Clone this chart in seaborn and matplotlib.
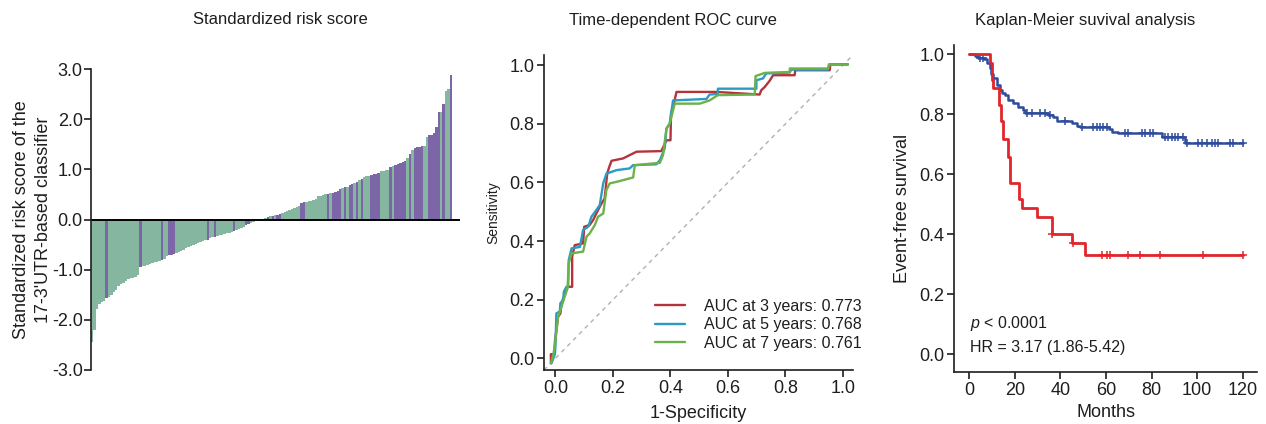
import numpy as np
import pandas as pd
import matplotlib
matplotlib.use("Agg")
import matplotlib.pyplot as plt
import seaborn as sns

# --- panel 1: waterfall of standardized risk scores (sorted patients)
risk_scores = [
    -2.45, -2.20, -1.78, -1.68, -1.65, -1.62, -1.57, -1.55, -1.50, -1.45,
    -1.40, -1.32, -1.28, -1.26, -1.22, -1.18, -1.17, -1.16, -1.15, -1.10,
    -0.94, -0.93, -0.92, -0.90, -0.89, -0.87, -0.85, -0.84, -0.82, -0.81,
    -0.78, -0.73, -0.71, -0.70, -0.69, -0.66, -0.64, -0.62, -0.60, -0.57,
    -0.55, -0.53, -0.51, -0.49, -0.47, -0.45, -0.43, -0.41, -0.40, -0.37,
    -0.35, -0.34, -0.32, -0.31, -0.30, -0.29, -0.27, -0.26, -0.24, -0.23,
    -0.20, -0.18, -0.16, -0.14, -0.10, -0.08, -0.06, -0.04, -0.03, -0.02,
    -0.01, 0.01, 0.02, 0.04, 0.06, 0.07, 0.08, 0.09, 0.10, 0.12,
    0.15, 0.17, 0.19, 0.21, 0.23, 0.25, 0.26, 0.33, 0.34, 0.35,
    0.36, 0.37, 0.38, 0.40, 0.46, 0.47, 0.48, 0.50, 0.51, 0.52,
    0.52, 0.54, 0.57, 0.60, 0.62, 0.64, 0.65, 0.68, 0.71, 0.73,
    0.75, 0.78, 0.80, 0.84, 0.86, 0.87, 0.88, 0.90, 0.91, 0.93,
    0.96, 0.97, 0.98, 0.99, 1.05, 1.07, 1.08, 1.10, 1.12, 1.15,
    1.17, 1.22, 1.30, 1.38, 1.42, 1.44, 1.45, 1.46, 1.47, 1.64,
    1.68, 1.69, 1.72, 1.85, 2.14, 2.15, 2.30, 2.56, 2.60, 2.88,
]
# 1 = event, 0 = no event
event_status = [
    0, 0, 0, 0, 0, 0, 1, 0, 0, 0,
    0, 0, 0, 0, 0, 0, 0, 0, 0, 0,
    1, 0, 0, 0, 0, 0, 0, 0, 0, 1,
    0, 0, 1, 1, 1, 0, 0, 0, 0, 0,
    0, 0, 0, 0, 0, 0, 0, 0, 1, 0,
    0, 1, 0, 0, 0, 0, 0, 0, 0, 1,
    0, 0, 0, 0, 1, 1, 0, 0, 0, 0,
    0, 0, 0, 1, 0, 1, 0, 1, 1, 0,
    0, 0, 0, 0, 0, 0, 0, 1, 1, 0,
    0, 0, 0, 0, 0, 0, 0, 0, 1, 0,
    1, 1, 1, 1, 0, 1, 0, 1, 1, 0,
    1, 0, 1, 0, 0, 0, 1, 1, 1, 1,
    0, 0, 0, 0, 1, 0, 1, 1, 1, 1,
    1, 0, 1, 0, 1, 1, 1, 1, 0, 0,
    1, 1, 1, 1, 1, 0, 1, 0, 0, 1,
]
status_names = ["no event", "event"]

# --- panel 2: time-dependent ROC curves
roc3_fpr = [-0.016, -0.016, -0.004, -0.002, 0.009, 0.017, 0.021, 0.029, 0.035, 0.044,
            0.058, 0.058, 0.067, 0.096, 0.100, 0.119, 0.131, 0.145, 0.160, 0.171,
            0.180, 0.187, 0.195, 0.235, 0.282, 0.368, 0.386, 0.400, 0.402, 0.409,
            0.421, 0.560, 0.710, 0.716, 0.728, 0.745, 0.757, 0.832, 0.834, 0.954,
            0.956, 1.017]
roc3_tpr = [-0.017, 0.014, 0.014, 0.057, 0.142, 0.153, 0.188, 0.210, 0.233, 0.244,
            0.244, 0.347, 0.386, 0.392, 0.449, 0.455, 0.472, 0.500, 0.528, 0.545,
            0.631, 0.653, 0.674, 0.682, 0.705, 0.707, 0.744, 0.744, 0.835, 0.858,
            0.909, 0.909, 0.900, 0.915, 0.926, 0.947, 0.966, 0.966, 0.983, 0.983,
            1.003, 1.003]
roc5_fpr = [-0.014, -0.002, 0.000, 0.003, 0.015, 0.017, 0.027, 0.029, 0.038, 0.044,
            0.046, 0.056, 0.085, 0.096, 0.114, 0.125, 0.140, 0.154, 0.166, 0.177,
            0.212, 0.258, 0.270, 0.351, 0.363, 0.380, 0.386, 0.397, 0.409, 0.525,
            0.536, 0.565, 0.565, 0.699, 0.699, 0.722, 0.733, 0.815, 0.820, 0.948,
            0.954, 1.017]
roc5_tpr = [-0.017, 0.014, 0.045, 0.153, 0.160, 0.188, 0.199, 0.227, 0.244, 0.244,
            0.335, 0.375, 0.380, 0.438, 0.449, 0.483, 0.503, 0.523, 0.597, 0.630,
            0.642, 0.648, 0.659, 0.662, 0.676, 0.716, 0.784, 0.800, 0.880, 0.885,
            0.900, 0.902, 0.920, 0.920, 0.949, 0.955, 0.972, 0.975, 0.985, 0.985,
            1.003, 1.003]
roc7_fpr = [-0.016, -0.008, -0.002, 0.009, 0.021, 0.032, 0.042, 0.046, 0.056, 0.096,
            0.108, 0.119, 0.137, 0.148, 0.166, 0.177, 0.189, 0.212, 0.270, 0.276,
            0.363, 0.374, 0.386, 0.397, 0.415, 0.502, 0.536, 0.565, 0.693, 0.696,
            0.728, 0.815, 0.815, 0.948, 0.951, 1.017]
roc7_tpr = [-0.017, 0.011, 0.045, 0.142, 0.176, 0.210, 0.239, 0.324, 0.358, 0.364,
            0.415, 0.426, 0.455, 0.483, 0.494, 0.574, 0.597, 0.602, 0.617, 0.659,
            0.667, 0.693, 0.784, 0.800, 0.869, 0.869, 0.880, 0.898, 0.900, 0.963,
            0.974, 0.977, 0.989, 0.989, 1.003, 1.003]
roc_labels = ["AUC at 3 years: 0.773", "AUC at 5 years: 0.768", "AUC at 7 years: 0.761"]

# --- panel 3: Kaplan-Meier
high_times = [0, 9.1, 9.8, 10.5, 13.2, 13.8, 14.7, 17.1, 17.9, 22.0, 23.0, 29.6,
              36.1, 44.9, 50.8, 120.0]
high_surv = [1.0, 0.971, 0.914, 0.887, 0.831, 0.776, 0.718, 0.658, 0.572, 0.516,
             0.486, 0.458, 0.400, 0.372, 0.331, 0.331]
high_censor = [36.5, 45.5, 58.1, 60.6, 61.8, 69.8, 74.9, 83.7, 102.7, 120.0]

low_times = [0, 2.5, 4.0, 6.5, 8.0, 9.0, 9.5, 10.5, 12.0, 13.5,
             14.5, 15.7, 17.1, 19.3, 21.5, 23.4, 24.4, 34.7, 36.9, 38.3,
             44.9, 47.1, 48.6, 61.2, 62.5, 65.4, 84.5, 84.8, 94.7, 120.0]
low_surv = [1.0, 0.994, 0.988, 0.982, 0.970, 0.952, 0.935, 0.919, 0.897, 0.880,
            0.870, 0.863, 0.847, 0.836, 0.825, 0.814, 0.805, 0.797, 0.789, 0.778,
            0.769, 0.761, 0.756, 0.749, 0.741, 0.736, 0.728, 0.722, 0.705, 0.705]
low_censor = [4.7, 6.1, 25.2, 27.4, 31.0, 33.2, 35.4, 42.0, 49.3, 54.4, 55.9, 57.4,
              58.8, 60.3, 68.4, 69.8, 75.7, 77.1, 79.3, 80.8, 85.9, 87.4, 88.8, 90.3,
              91.7, 93.7, 95.7, 100.5, 102.0, 104.2, 106.4, 107.9, 109.3, 114.4,
              115.9, 120.0]

GREEN = "#84b6a0"
PURPLE = "#7d66a8"
ROC_COLORS = ["#b5333b", "#2b9bc3", "#6cb24a"]
KM_RED = "#e0262c"
KM_BLUE = "#2e4b9c"
INK = "#1e1e1e"

sns.set_style("ticks")
plt.rcParams["font.family"] = ["Liberation Sans", "DejaVu Sans"]
plt.rcParams["mathtext.fontset"] = "custom"
plt.rcParams["mathtext.it"] = "Liberation Sans:italic"
plt.rcParams["axes.linewidth"] = 1.2
for key in ["text.color", "axes.labelcolor", "xtick.color", "ytick.color", "axes.edgecolor"]:
    plt.rcParams[key] = INK

W, H = 1266, 424
fig = plt.figure(figsize=(W / 100, H / 100), dpi=100)
ax1 = fig.add_axes([91 / W, 1 - 370 / H, 369 / W, 301 / H])
ax2 = fig.add_axes([544 / W, 1 - 370 / H, 309 / W, 315 / H])
ax3 = fig.add_axes([954 / W, 1 - 372 / H, 303 / W, 327 / H])

TICK = 13

# panel 1
df_bar = pd.DataFrame({
    "patient": np.arange(len(risk_scores)),
    "score": risk_scores,
    "status": [status_names[s] for s in event_status],
})
sns.barplot(data=df_bar, x="patient", y="score", hue="status",
            palette={"no event": GREEN, "event": PURPLE}, saturation=1,
            dodge=False, width=1.0, linewidth=0, antialiased=False,
            legend=False, ax=ax1)
ax1.axhline(0, color="black", lw=1.4)
ax1.set_xlim(-0.5, len(risk_scores) + 2.8)
ax1.set_ylim(-3, 3)
ax1.set_xticks([])
ax1.set_xlabel("")
ax1.set_yticks(np.arange(-3, 3.1, 1.0))
ax1.set_yticklabels([f"{v:.1f}" for v in np.arange(-3, 3.1, 1.0)])
for s in ["top", "right", "bottom"]:
    ax1.spines[s].set_visible(False)
ax1.tick_params(axis="y", labelsize=TICK, length=5, width=1.2, pad=1)
ax1.set_ylabel("Standardized risk score of the\n17-3'UTR-based classifier",
               fontsize=13, labelpad=0, linespacing=1.35)

# panel 2
ax2.plot([-0.04, 1.04], [-0.04, 1.04], ls=(0, (3, 3)), color="#b0b0b0", lw=1)
roc_df = pd.concat([
    pd.DataFrame({"fpr": roc3_fpr, "tpr": roc3_tpr, "curve": roc_labels[0]}),
    pd.DataFrame({"fpr": roc5_fpr, "tpr": roc5_tpr, "curve": roc_labels[1]}),
    pd.DataFrame({"fpr": roc7_fpr, "tpr": roc7_tpr, "curve": roc_labels[2]}),
], ignore_index=True)
sns.lineplot(data=roc_df, x="fpr", y="tpr", hue="curve",
             palette=dict(zip(roc_labels, ROC_COLORS)), estimator=None,
             sort=False, lw=1.7, ax=ax2)
ax2.set_xlim(-0.04, 1.035)
ax2.set_ylim(-0.04, 1.035)
ticks = np.arange(0, 1.01, 0.2)
ax2.set_xticks(ticks)
ax2.set_xticklabels([f"{v:.1f}" for v in ticks])
ax2.set_yticks(ticks)
ax2.set_yticklabels([f"{v:.1f}" for v in ticks])
ax2.tick_params(labelsize=TICK, length=5, width=1.2, pad=2)
sns.despine(ax=ax2)
ax2.set_xlabel("1-Specificity", fontsize=13, labelpad=6)
ax2.set_ylabel("Sensitivity", fontsize=10, labelpad=6)
ax2.legend(loc="lower right", bbox_to_anchor=(1.075, 0.015), frameon=False,
           fontsize=11.5, handlelength=1.9, handletextpad=1.2, labelspacing=0.22)

# panel 3
def km_lookup(times, surv, t):
    idx = np.searchsorted(times, t, side="right") - 1
    return np.asarray(surv)[idx]

for times, surv, cens, col, lw in [(low_times, low_surv, low_censor, KM_BLUE, 1.8),
                                   (high_times, high_surv, high_censor, KM_RED, 2.0)]:
    sns.lineplot(x=times, y=surv, drawstyle="steps-post", estimator=None,
                 sort=False, color=col, lw=lw, ax=ax3)
    sns.scatterplot(x=cens, y=km_lookup(times, surv, cens), marker="+", s=40,
                    color=col, linewidth=1.1, ax=ax3)
ax3.set_xlim(-6.7, 126.3)
ax3.set_ylim(-0.059, 1.03)
ax3.set_xticks(np.arange(0, 121, 20))
ax3.set_yticks(ticks)
ax3.set_yticklabels([f"{v:.1f}" for v in ticks])
ax3.tick_params(labelsize=TICK, length=5, width=1.2, pad=2)
sns.despine(ax=ax3)
ax3.set_xlabel("Months", fontsize=13, labelpad=4)
ax3.set_ylabel("Event-free survival", fontsize=13, labelpad=6)
ax3.text(0.3, 0.104, "$p$ < 0.0001", fontsize=11.5, va="center", ha="left")
ax3.text(0.3, 0.021, "HR = 3.17 (1.86-5.42)", fontsize=11.5, va="center", ha="left")

# panel titles
fig.text(280 / W, 1 - 20 / H, "Standardized risk score", ha="center", va="center", fontsize=12)
fig.text(673 / W, 1 - 20 / H, "Time-dependent ROC curve", ha="center", va="center", fontsize=12)
fig.text(1085 / W, 1 - 20 / H, "Kaplan-Meier suvival analysis", ha="center", va="center", fontsize=12)

fig.savefig("out.png", dpi=100)
